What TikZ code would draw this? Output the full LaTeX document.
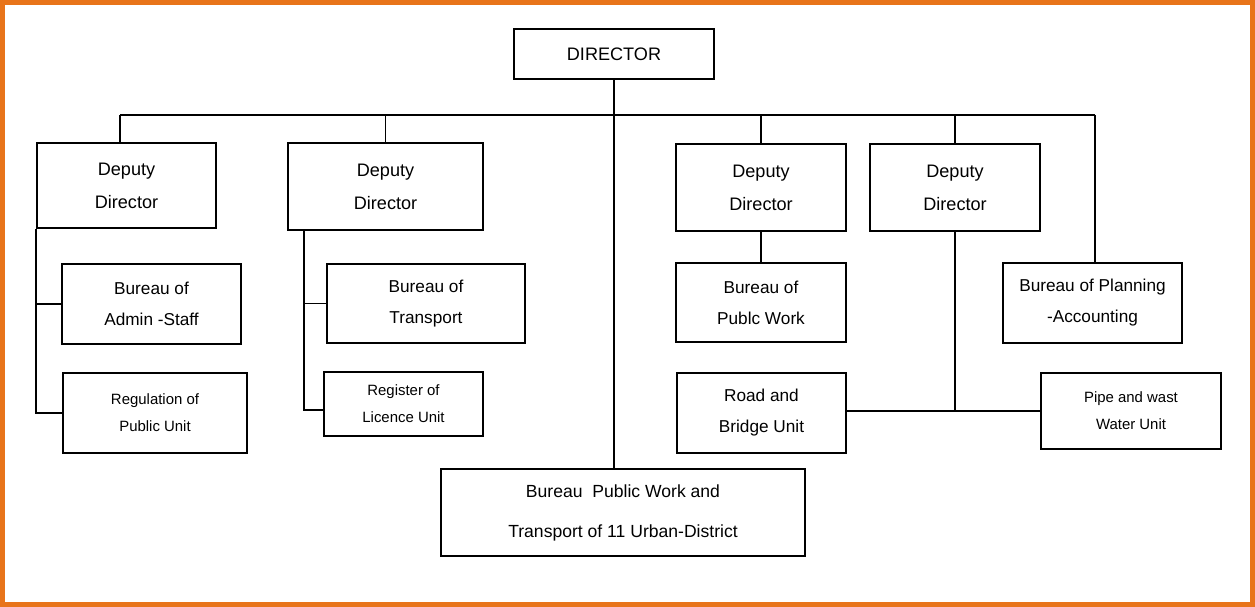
\documentclass[tikz,border=0pt]{standalone}
\usepackage{fontspec}
\setmainfont{Liberation Sans}
\usepackage{xcolor}
\usetikzlibrary{positioning, calc}
\definecolor{frameorange}{RGB}{232,116,26}

\begin{document}
\begin{tikzpicture}[
    x=0.02cm, y=-0.02cm,
    unit/.style={rectangle, draw=black, fill=white, line width=1pt,
                 align=center, inner sep=0pt, font=\fontsize{10.3}{18.8}\selectfont},
    midunit/.style={unit, font=\fontsize{9.8}{17.6}\selectfont},
    smallunit/.style={unit, font=\fontsize{8.5}{15.4}\selectfont},
    link/.style={line width=0.8pt},
]
\useasboundingbox (0,0) rectangle (1255,607);
\draw[frameorange, line width=0.1cm] (2.5,2.5) rectangle (1252.5,604.5);

% top and deputies
\node[unit, minimum width=4cm, minimum height=1cm] (director) at (614,54) {DIRECTOR};
\node[unit, minimum width=3.58cm, minimum height=1.7cm] (dep1) at (126.5,185.5) {Deputy\\Director};
\node[unit, minimum width=3.9cm, minimum height=1.74cm] (dep2) at (385.5,186.5) {Deputy\\Director};
\node[unit, minimum width=3.4cm, minimum height=1.74cm] (dep3) at (761,187.5) {Deputy\\Director};
\node[unit, minimum width=3.4cm, minimum height=1.74cm] (dep4) at (955,187.5) {Deputy\\Director};

% bureaus and units
\node[midunit, minimum width=3.58cm, minimum height=1.6cm] (admin) at (151.5,304) {Bureau of\\Admin -Staff};
\node[smallunit, minimum width=3.68cm, minimum height=1.6cm] (regulation) at (155,413) {Regulation of\\Public Unit};
\node[midunit, minimum width=3.96cm, minimum height=1.58cm] (transport) at (426,303.5) {Bureau of\\Transport};
\node[smallunit, minimum width=3.18cm, minimum height=1.28cm] (licence) at (403.5,404) {Register of\\Licence Unit};
\node[midunit, minimum width=3.4cm, minimum height=1.58cm] (pubwork) at (761,302.5) {Bureau of\\Publc Work};
\node[midunit, minimum width=3.38cm, minimum height=1.6cm] (road) at (761.5,413) {Road and\\Bridge Unit};
\node[midunit, minimum width=3.58cm, minimum height=1.6cm] (planning) at (1092.5,303) {Bureau of Planning\\-Accounting};
\node[smallunit, minimum width=3.6cm, minimum height=1.52cm] (pipe) at (1131,411) {Pipe and wast\\Water Unit};
\node[unit, font=\fontsize{10}{22.8}\selectfont, minimum width=7.28cm, minimum height=1.74cm] (district) at (623,512.5) {Bureau~ Public Work and\\Transport of 11 Urban-District};

% bus
\coordinate (busL) at (120,115);
\coordinate (busR) at (1095,115);
\draw[link] (busL) -- (busR);
\draw[link] (busL) -- (busL |- dep1.north);
\draw[link] (dep2.north) -- (dep2.north |- busL);
\draw[link] (dep3.north) -- (dep3.north |- busL);
\draw[link] (dep4.north) -- (dep4.north |- busL);
\draw[link] (busR) -- (busR |- planning.north);
\draw[link] (director.south) -- (director.south |- district.north);

% branches
\draw[link] (dep1.south west) |- (regulation.west);
\draw[link] (dep1.south west |- admin.west) -- (admin.west);
\coordinate (t2) at ($(dep2.south west)+(17,0)$);
\draw[link] (t2) |- ($(licence.west)+(0,6)$);
\draw[link] (t2 |- transport.west) -- (transport.west);
\draw[link] (dep3.south) -- (pubwork.north);
\draw[link] (dep4.south) -- (dep4.south |- pipe.west);
\draw[link] (road.east |- pipe.west) -- (pipe.west);

\end{tikzpicture}
\end{document}
